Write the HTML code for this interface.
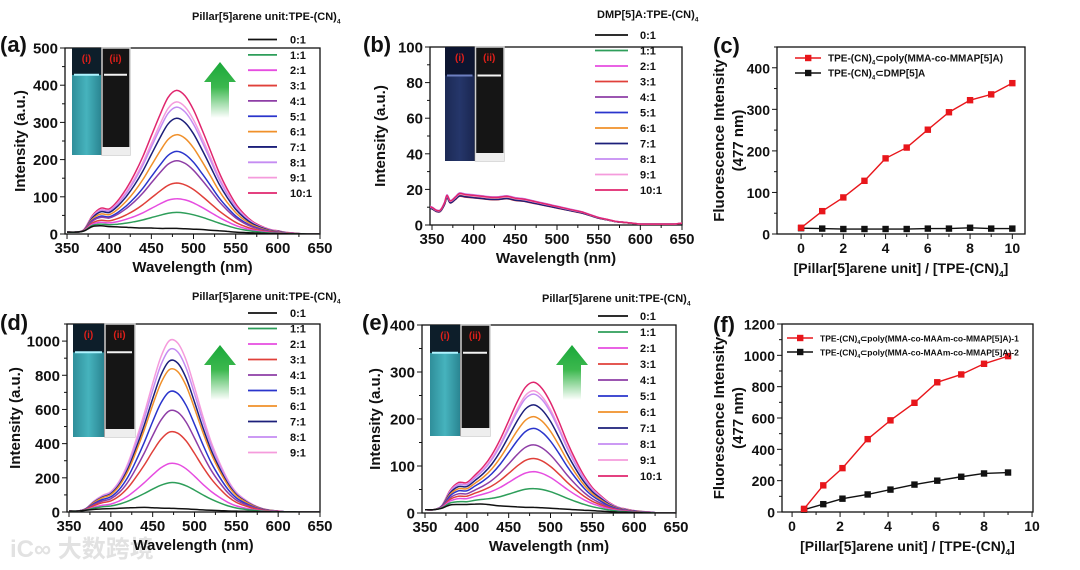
<!DOCTYPE html>
<html><head><meta charset="utf-8"><style>
html,body{margin:0;padding:0;background:#fff;}
svg{display:block;font-family:"Liberation Sans",Arial,sans-serif;font-weight:bold;}
</style></head><body>
<svg id="fig" width="1080" height="570" viewBox="0 0 1080 570" xmlns="http://www.w3.org/2000/svg">
<defs>
<linearGradient id="arrowGrad" x1="0" y1="0" x2="0" y2="1"><stop offset="0" stop-color="#1aa83a"/><stop offset="0.45" stop-color="#3cb84e"/><stop offset="1" stop-color="#ffffff"/></linearGradient>
<linearGradient id="cyanGrad" x1="0" y1="0" x2="1" y2="0"><stop offset="0" stop-color="#2f8e9a"/><stop offset="0.5" stop-color="#46b3bd"/><stop offset="1" stop-color="#2a8592"/></linearGradient>
<linearGradient id="blueGrad" x1="0" y1="0" x2="1" y2="0"><stop offset="0" stop-color="#1c2a55"/><stop offset="0.5" stop-color="#25366a"/><stop offset="1" stop-color="#1a2650"/></linearGradient>
</defs>
<text x="10" y="557" font-size="24" fill="#e2e2e2" font-family="'Liberation Sans','Noto Sans CJK SC',sans-serif">iC∞ 大数跨境</text>
</svg>
<script>
// ---------- data ----------
const ratioLabels = ['0:1','1:1','2:1','3:1','4:1','5:1','6:1','7:1','8:1','9:1','10:1'];
const ratioColors = ['#111111','#2e9e5a','#e64de0','#e0403a','#8e3ea6','#2a35cc','#f0902a','#1c1f7a','#c58cf2','#f59bdc','#e0266e'];
const wl = [350,360,370,380,390,400,410,420,430,440,450,460,470,480,490,500,510,520,530,540,550,560,570,580,590,600,610,620,630,640,650];
// panel (a)
const shapeA = [0,0,0.01,0.08,0.13,0.13,0.19,0.28,0.39,0.52,0.67,0.82,0.95,1.0,0.96,0.86,0.72,0.57,0.42,0.3,0.2,0.13,0.08,0.05,0.03,0.02,0.01,0.005,0,0,0];
const baseA = [5,5,8,20,22,20,19,18,17,16,16,15,15,15,14,13,12,10,9,7,5,4,3,2,1,1,0.5,0.3,0.2,0.1,0];
const peaksA = [15,58,95,137,197,222,267,311,341,355,386];
// panel (d)
const shapeD = [0,0,0.01,0.05,0.08,0.1,0.16,0.26,0.4,0.56,0.74,0.9,0.995,0.98,0.88,0.72,0.55,0.4,0.28,0.18,0.11,0.07,0.04,0.02,0.01,0.005,0,0,0,0,0];
const baseD = [5,5,10,15,18,20,22,24,26,27,25,23,22,20,18,15,12,10,8,6,5,4,3,2,1,1,0.5,0.3,0,0,0];
const peaksD = [22,172,285,470,595,707,837,888,955,1008];
// panel (e)
const shapeE = [0,0,0.02,0.12,0.18,0.18,0.24,0.31,0.41,0.54,0.69,0.84,0.96,1.0,0.95,0.84,0.69,0.53,0.39,0.27,0.18,0.12,0.07,0.04,0.025,0.015,0.01,0.005,0,0,0];
const baseE = [7,7,10,17,18,18,19,19,17,15,14,13,12,12,11,10,9,8,7,6,5,4,3,2,1.5,1,0.5,0.3,0,0,0];
const peaksE = [12,52,88,116,145,180,205,230,253,260,278];
// panel (b)
const wlB = [345,350,355,360,365,368,372,378,383,390,400,410,420,430,440,450,460,470,480,490,500,510,520,530,540,550,560,570,580,590,600,610,620,630,640,650];
const specB = [10,9.5,8,8,12,16,13,15,17,16.5,16,15.5,15,15,15.5,14.5,14,13,12,11,10,9,8,7,5.5,4,3,2,1.5,1,0.5,0.5,0.5,0.5,0.5,1];
const scaleB = [0.97,1.0,1.05,0.95,1.03,1.0,0.98,0.96,1.06,1.02,1.04];
// panel (c)
const ratioC = [0,1,2,3,4,5,6,7,8,9,10];
const polyC = [15,55,88,128,182,208,251,293,322,336,363];
const dmpC = [14,13,12,12,12,12,13,13,15,13,13];
// panel (f)
const ratioF = [0.5,1.3,2.1,3.15,4.1,5.1,6.05,7.05,8.0,9.0];
const poly1F = [20,170,280,465,585,697,828,878,946,995];
const poly2F = [15,50,85,112,143,175,200,225,246,252];

// ---------- helpers ----------
const NS='http://www.w3.org/2000/svg';
const svg=document.getElementById('fig');
function mk(parent, tag, attrs, name){
  const el=document.createElementNS(NS,tag);
  for(const k in attrs) el.setAttribute(k,attrs[k]);
  
  
  parent.appendChild(el);
  return el;
}
function txt(parent,x,y,s,size,name,anchor){
  const t=mk(parent,'text',{x:x,y:y,'font-size':size,'text-anchor':anchor||'start',fill:'#111'},name);
  t.textContent=s; return t;
}
function subText(parent,x,y,pre,sub,post,size,name,anchor){
  const t=mk(parent,'text',{x:x,y:y,'font-size':size,'text-anchor':anchor||'start',fill:'#111'},name);
  t.appendChild(document.createTextNode(pre));
  const ts=document.createElementNS(NS,'tspan');
  ts.setAttribute('font-size',size*0.6); ts.setAttribute('dy',size*0.3); ts.textContent=sub;
  t.appendChild(ts);
  if(post){const ts2=document.createElementNS(NS,'tspan'); ts2.setAttribute('dy',-size*0.3); ts2.textContent=post; t.appendChild(ts2);}
  return t;
}
function smooth(pts){
  let d='M'+pts[0][0].toFixed(1)+','+pts[0][1].toFixed(1);
  for(let i=0;i<pts.length-1;i++){
    const p0=pts[i-1]||pts[i],p1=pts[i],p2=pts[i+1],p3=pts[i+2]||p2;
    const c1=[p1[0]+(p2[0]-p0[0])/6,p1[1]+(p2[1]-p0[1])/6];
    const c2=[p2[0]-(p3[0]-p1[0])/6,p2[1]-(p3[1]-p1[1])/6];
    d+='C'+c1[0].toFixed(1)+','+c1[1].toFixed(1)+' '+c2[0].toFixed(1)+','+c2[1].toFixed(1)+' '+p2[0].toFixed(1)+','+p2[1].toFixed(1);
  }
  return d;
}
let clipN=0;
function axes(g,c){
  const fs=c.tfs||15;
  const sx=v=>c.l+(v-c.x0)/(c.x1-c.x0)*(c.r-c.l);
  const sy=v=>c.b-(v-c.y0)/(c.y1-c.y0)*(c.b-c.t);
  mk(g,'rect',{x:c.l,y:c.t,width:c.r-c.l,height:c.b-c.t,fill:'none',stroke:'#111','stroke-width':1.3},'plot-frame');
  for(let v=c.xs;v<=c.x1+1e-6;v+=c.xmin){
    const major=Math.abs(((v-c.xs)/c.xstep)-Math.round((v-c.xs)/c.xstep))<1e-6;
    const x=sx(v);
    mk(g,'line',{x1:x,x2:x,y1:c.b,y2:c.b+(major?5:3),stroke:'#111','stroke-width':1},'x-tick');
    if(major) txt(g,x,c.b+19,String(Math.round(v*10)/10),fs,'x-tick-label','middle');
  }
  for(let v=c.y0;v<=c.y1+1e-6;v+=c.ymin){
    const major=Math.abs((v/c.ystep)-Math.round(v/c.ystep))<1e-6;
    const y=sy(v);
    mk(g,'line',{x1:c.l,x2:c.l-(major?5:3),y1:y,y2:y,stroke:'#111','stroke-width':1},'y-tick');
    if(major && v<=c.ylast) txt(g,c.l-7,y+5.5,String(v),fs,'y-tick-label','end');
  }
  clipN++;
  const cp=mk(g,'clipPath',{id:'clip'+clipN},'plot-clip');
  mk(cp,'rect',{x:c.l,y:c.t,width:c.r-c.l,height:c.b-c.t},'plot-clip-rect');
  return {sx,sy,clip:'url(#clip'+clipN+')'};
}
function inset(g,x,y,w,h,dark){
  const hw=w/2;
  mk(g,'rect',{x:x,y:y,width:w,height:h,fill:'#111'},'inset-photo');
  mk(g,'rect',{x:x,y:y+h*0.25,width:hw,height:h*0.75,fill:dark?'url(#blueGrad)':'url(#cyanGrad)'},'vial-i-solution');
  mk(g,'rect',{x:x,y:y,width:hw,height:h*0.25,fill:dark?'#0d1530':'#0d1e2a'},'vial-i-top');
  mk(g,'line',{x1:x+2,x2:x+hw-2,y1:y+h*0.25,y2:y+h*0.25,stroke:dark?'#6d7fc0':'#aef4ff','stroke-width':2},'vial-i-meniscus');
  mk(g,'rect',{x:x+hw+1,y:y,width:hw-1,height:h,fill:'#151515',stroke:'#cfcfcf','stroke-width':1.5},'vial-ii');
  mk(g,'line',{x1:x+hw+3,x2:x+w-3,y1:y+h*0.25,y2:y+h*0.25,stroke:'#f4f4f4','stroke-width':2},'vial-ii-meniscus');
  mk(g,'rect',{x:x+hw+1,y:y+h-8,width:hw-1,height:8,fill:'#eee'},'vial-ii-base');
  const t1=txt(g,x+hw/2,y+14,'(i)',10,'vial-i-label','middle'); t1.setAttribute('fill','#e0201a');
  const t2=txt(g,x+hw*1.5,y+14,'(ii)',10,'vial-ii-label','middle'); t2.setAttribute('fill','#e0201a');
}
function arrow(g,cx,top,bot){
  const hw=16,sw=9,hh=20;
  mk(g,'path',{d:`M${cx},${top} L${cx+hw},${top+hh} L${cx+sw},${top+hh} L${cx+sw},${bot} L${cx-sw},${bot} L${cx-sw},${top+hh} L${cx-hw},${top+hh} Z`,fill:'url(#arrowGrad)'},'increase-arrow');
}
function legendSpectra(g,c,n){
  subText(g,c.tx,c.ty,c.title,'4','',11,'legend-title');
  for(let i=0;i<n;i++){
    const y=c.ly0+i*c.ldy;
    mk(g,'line',{x1:c.lx1,x2:c.lx2,y1:y,y2:y,stroke:ratioColors[i],'stroke-width':1.8},'legend-swatch-'+ratioLabels[i].replace(':','-'));
    txt(g,c.ltx,y+4,ratioLabels[i],11,'legend-label-'+ratioLabels[i].replace(':','-'));
  }
}
function spectraPanel(c, shape, base, peaks){
  const g=mk(svg,'g',{},c.name);
  const ax=axes(g,c);
  const cg=mk(g,'g',{'clip-path':ax.clip},'spectra-curves');
  for(let k=peaks.length-1;k>=0;k--){
    let pts;
    if(k===0) pts=wl.map((w,i)=>[ax.sx(w),ax.sy(base[i])]);
    else pts=wl.map((w,i)=>[ax.sx(w),ax.sy(base[i]*(1-shape[i])+peaks[k]*shape[i])]);
    mk(cg,'path',{d:smooth(pts),fill:'none',stroke:ratioColors[k],'stroke-width':1.5},'spectrum-'+ratioLabels[k].replace(':','-'));
  }
  finishSpectra(g,c,peaks.length);
}
function finishSpectra(g,c,n){
  inset(g,c.ix,c.iy,c.iw,c.ih,c.dark);
  if(c.ax) arrow(g,c.ax,c.at,c.ab);
  legendSpectra(g,c,n);
  txt(g,c.px,c.py,c.plabel,22,'panel-label');
  const yt=txt(g,0,0,'Intensity (a.u.)',15,'y-axis-title','middle');
  yt.setAttribute('transform',`translate(${c.ytx},${(c.t+c.b)/2}) rotate(-90)`);
  txt(g,(c.l+c.r)/2,c.b+38,'Wavelength (nm)',15,'x-axis-title','middle');
}

// ---------- panel a ----------
spectraPanel({name:'panel-a',l:65,r:320,t:48,b:234,x0:347.6,x1:650,xs:350,xstep:50,xmin:25,y0:0,y1:500,ystep:100,ymin:50,ylast:500,
  ix:72,iy:48,iw:58,ih:107,ax:220,at:62,ab:118,title:'Pillar[5]arene unit:TPE-(CN)',tx:192,ty:20,lx1:248,lx2:277,ltx:290,ly0:39.5,ldy:15.35,
  px:0,py:52,plabel:'(a)',ytx:25}, shapeA, baseA, peaksA);

// ---------- panel d ----------
spectraPanel({name:'panel-d',l:67,r:320,t:324,b:512,x0:347.6,x1:650,xs:350,xstep:50,xmin:25,y0:0,y1:1100,ystep:200,ymin:100,ylast:1000,
  ix:73,iy:324,iw:62,ih:113,ax:220,at:345,ab:400,title:'Pillar[5]arene unit:TPE-(CN)',tx:192,ty:300,lx1:248,lx2:277,ltx:290,ly0:313,ldy:15.5,
  px:0,py:330,plabel:'(d)',ytx:20}, shapeD, baseD, peaksD);

// ---------- panel e ----------
spectraPanel({name:'panel-e',l:422,r:676,t:325,b:513,x0:346.4,x1:650,xs:350,xstep:50,xmin:25,y0:0,y1:400,ystep:100,ymin:50,ylast:400,
  ix:430,iy:325,iw:60,ih:111,ax:572,at:345,ab:400,title:'Pillar[5]arene unit:TPE-(CN)',tx:542,ty:302,lx1:598,lx2:628,ltx:640,ly0:316,ldy:16,
  px:362,py:330,plabel:'(e)',ytx:380}, shapeE, baseE, peaksE);

// ---------- panel b ----------
(function(){
  const c={name:'panel-b',l:430,r:682,t:47,b:225,x0:347.6,x1:650,xs:350,xstep:50,xmin:25,y0:0,y1:100,ystep:20,ymin:10,ylast:100,
    ix:445,iy:47,iw:59,ih:114,dark:true,title:'DMP[5]A:TPE-(CN)',tx:597,ty:18,lx1:595,lx2:628,ltx:640,ly0:35,ldy:15.5,
    px:363,py:52,plabel:'(b)',ytx:385};
  const g=mk(svg,'g',{},c.name);
  const ax=axes(g,c);
  const cg=mk(g,'g',{'clip-path':ax.clip},'spectra-curves');
  for(let k=0;k<scaleB.length;k++){
    const pts=wlB.map((w,i)=>[ax.sx(w),ax.sy(specB[i]*scaleB[k])]);
    mk(cg,'path',{d:smooth(pts),fill:'none',stroke:ratioColors[k],'stroke-width':1.5},'spectrum-'+ratioLabels[k].replace(':','-'));
  }
  finishSpectra(g,c,11);
})();

// ---------- titration panels ----------
function titration(c, xs, s1, s2, leg1, leg2){
  const g=mk(svg,'g',{},c.name);
  const ax=axes(g,c);
  [[s2,'#111','series-2'],[s1,'#e8161b','series-1']].forEach(([s,col,nm])=>{
    const pts=xs.map((x,i)=>[ax.sx(x),ax.sy(s[i])]);
    mk(g,'polyline',{points:pts.map(p=>p.join(',')).join(' '),fill:'none',stroke:col,'stroke-width':1.4},nm+'-line');
    pts.forEach(p=>mk(g,'rect',{x:p[0]-3.2,y:p[1]-3.2,width:6.4,height:6.4,fill:col},nm+'-marker'));
  });
  [[leg1,'#e8161b',c.ly1,'legend-entry-1'],[leg2,'#111',c.ly2,'legend-entry-2']].forEach(([lab,col,y,nm])=>{
    mk(g,'line',{x1:c.lx,x2:c.lx+26,y1:y,y2:y,stroke:col,'stroke-width':1.4},nm+'-line');
    mk(g,'rect',{x:c.lx+10,y:y-3.2,width:6.4,height:6.4,fill:col},nm+'-marker');
    subText(g,c.lx+33,y+3.5,'TPE-(CN)','4',lab,c.lfs,nm+'-label');
  });
  txt(g,c.px,c.py,c.plabel,22,'panel-label');
  const cy=(c.t+c.b)/2;
  const y1=txt(g,0,0,'Fluorescence Intensity',15,'y-axis-title','middle');
  y1.setAttribute('transform',`translate(724,${cy}) rotate(-90)`);
  const y2=txt(g,0,0,'(477 nm)',15,'y-axis-title-unit','middle');
  y2.setAttribute('transform',`translate(743,${cy}) rotate(-90)`);
  subText(g,(c.l+c.r)/2,c.b+39,'[Pillar[5]arene unit] / [TPE-(CN)','4',']',14,'x-axis-title','middle');
}
titration({name:'panel-c',l:777,r:1025,t:47,b:234,x0:-1.14,x1:10.6,xs:0,xstep:2,xmin:1,y0:0,y1:450,ystep:100,ymin:50,ylast:400,tfs:14,
  lx:795,ly1:58,ly2:73,lfs:10,px:713,py:53,plabel:'(c)'}, ratioC, polyC, dmpC, '⊂poly(MMA-co-MMAP[5]A)', '⊂DMP[5]A');
titration({name:'panel-f',l:782,r:1033,t:324,b:512,x0:-0.42,x1:10.04,xs:0,xstep:2,xmin:1,y0:0,y1:1200,ystep:200,ymin:100,ylast:1200,tfs:14,
  lx:787,ly1:338,ly2:352,lfs:8.5,px:713,py:332,plabel:'(f)'}, ratioF, poly1F, poly2F, '⊂poly(MMA-co-MAAm-co-MMAP[5]A)-1', '⊂poly(MMA-co-MAAm-co-MMAP[5]A)-2');
</script>
</body></html>
